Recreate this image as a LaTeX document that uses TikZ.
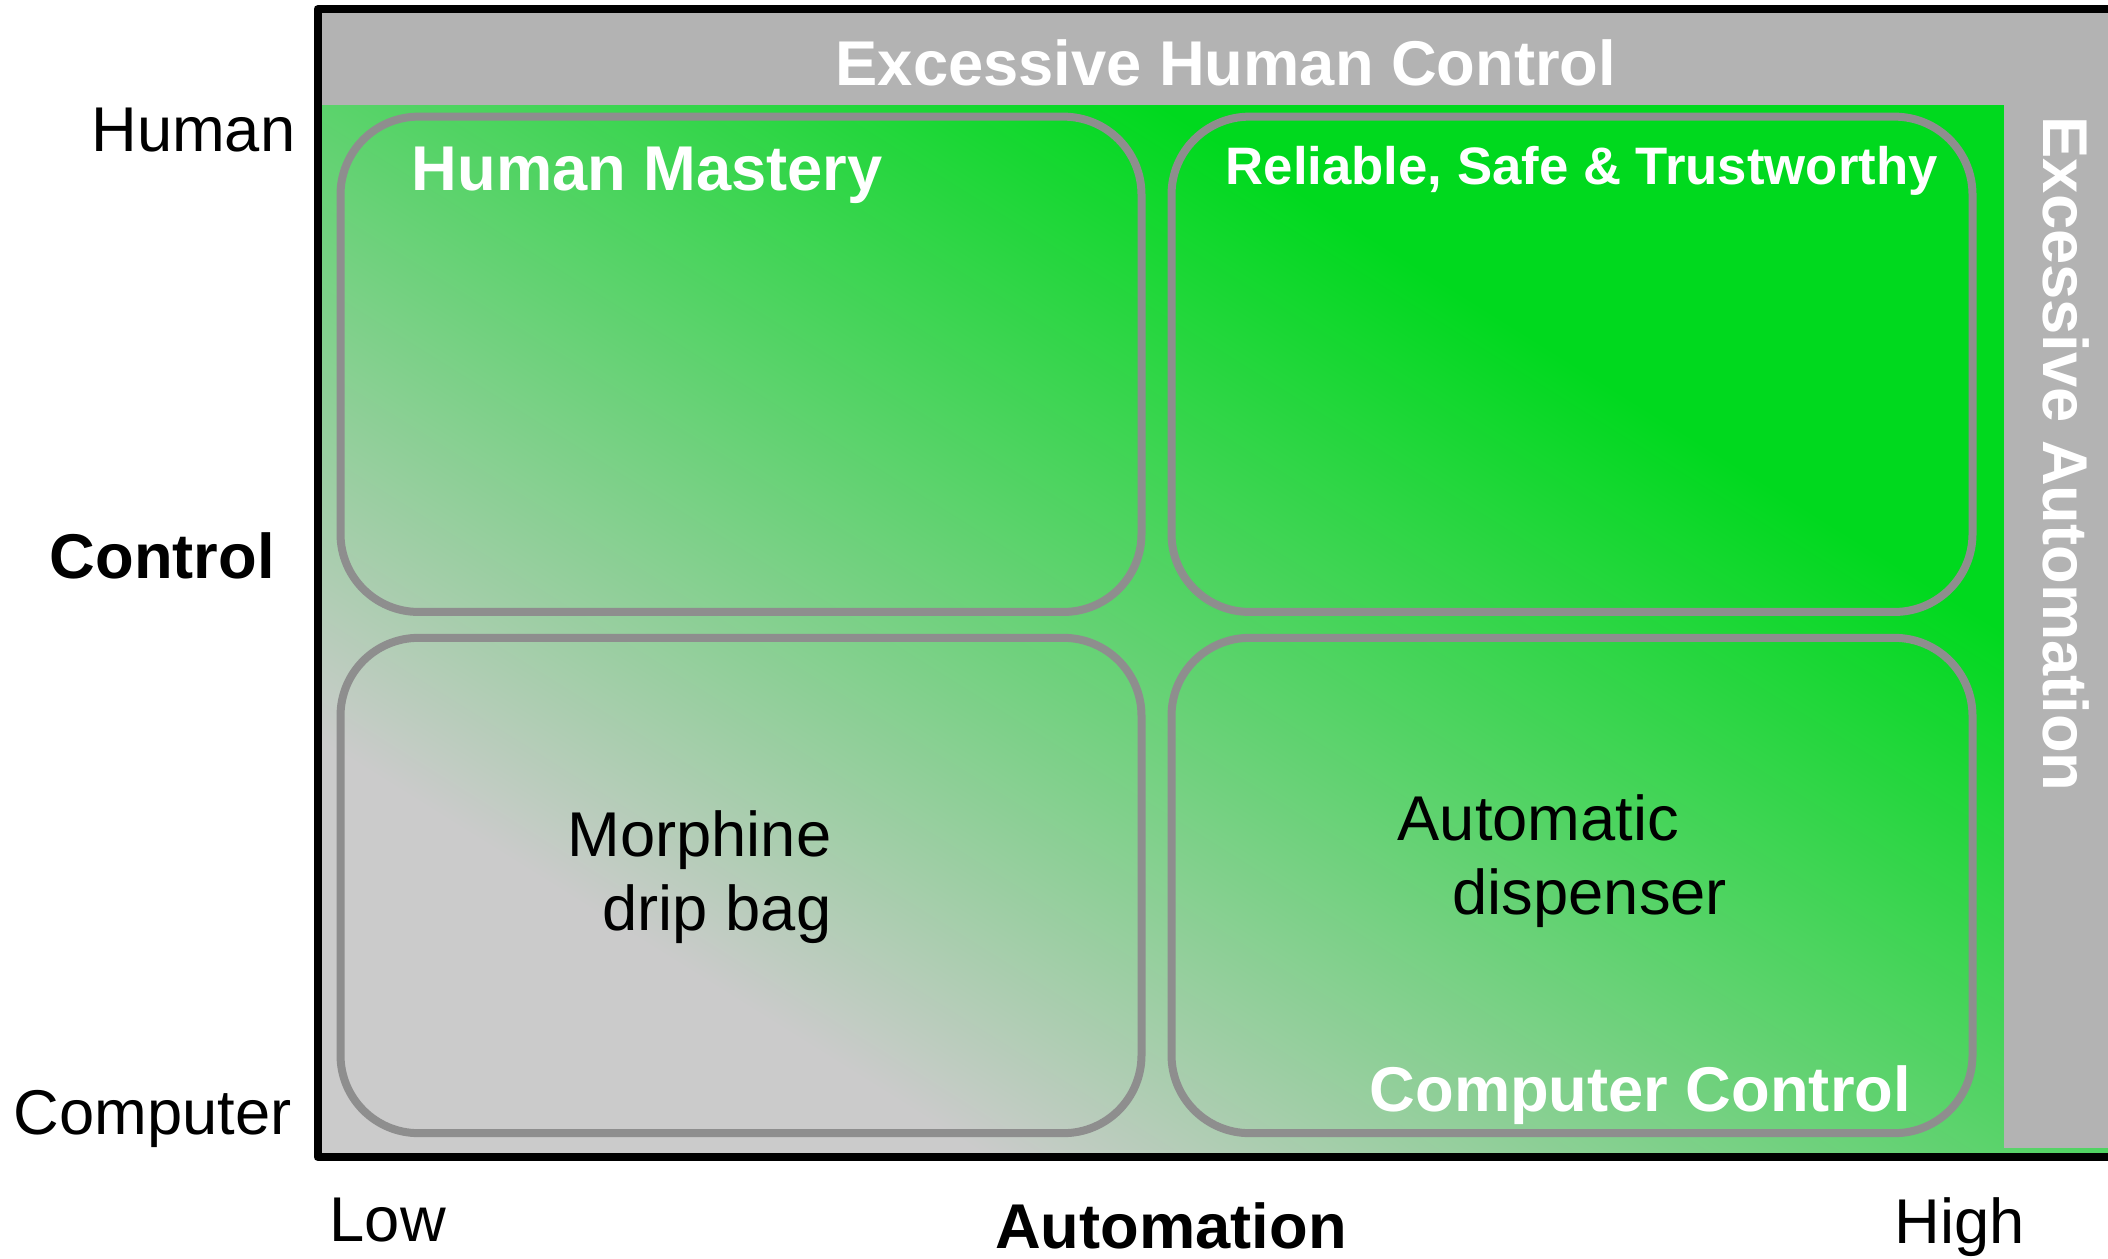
\documentclass[tikz,border=0pt]{standalone}
\usepackage{fontspec}
\setmainfont{Liberation Sans}
\usetikzlibrary{positioning}
\definecolor{zgreen}{RGB}{0,217,30}
\definecolor{zgray}{RGB}{203,203,203}
\definecolor{bandgray}{RGB}{179,179,179}
\definecolor{edgegray}{RGB}{142,142,142}
\pgfdeclarehorizontalshading{zoneshade}{100bp}{color(0bp)=(zgray); color(35.7bp)=(zgray); color(61.7bp)=(zgreen); color(100bp)=(zgreen)}

\begin{document}
\begin{tikzpicture}[
  every node/.style={inner sep=0pt,font=\fontsize{18}{21}\selectfont},
  quad/.style={rectangle,draw=edgegray,line width=0.08cm,rounded corners=0.78cm,minimum width=8.01cm,minimum height=4.953cm},
  head/.style={text=white,font=\fontsize{18}{21}\selectfont\bfseries},
  axname/.style={font=\fontsize{18}{21}\selectfont\bfseries}]
\useasboundingbox (0,0) rectangle (21.08,12.58);

\begin{scope}
\clip (3.21,1.05) rectangle (21.08,12.45);
\shade[shading=zoneshade,shading angle=58.07] (2.13,-3.21) rectangle (21.13,15.79);
\end{scope}
\fill[bandgray] (3.21,11.53) rectangle (21.08,12.45);
\fill[bandgray] (20.04,1.10) rectangle (21.08,12.45);
\draw[line width=0.08cm,line join=round] (21.08,12.488) -- (3.175,12.488) -- (3.175,1.01) -- (21.08,1.01);

\draw (7.41,8.937) node[quad] (hmbox) {};
\draw (15.72,8.937) node[quad] (rstbox) {};
\draw (7.41,3.725) node[quad] (dripbox) {};
\draw (15.72,3.725) node[quad] (dispbox) {};

\draw (12.26,11.72) node[head,anchor=base] (ehc) {Excessive Human Control};
\draw (20.43,11.42) node[head,anchor=base west,rotate=-90] (eauto) {Excessive Automation};
\draw (4.11,10.672) node[head,anchor=base west] (hmast) {Human Mastery};
\draw (12.25,10.73) node[head,anchor=base west,font=\fontsize{15}{18}\selectfont\bfseries] (rst) {Reliable, Safe \& Trustworthy};
\draw (13.69,1.47) node[head,anchor=base west] (cctrl) {Computer Control};

\draw (8.32,3.28) node[anchor=base east,align=right] (drip) {Morphine\\drip bag};
\draw (13.97,3.44) node[anchor=base west,align=left] (disp) {Automatic\\\hspace*{0.55cm}dispenser};

\draw (2.96,11.062) node[anchor=base east] (yhi) {Human};
\draw (2.755,6.797) node[axname,anchor=base east] (yax) {Control};
\draw (2.92,1.24) node[anchor=base east] (ylo) {Computer};
\draw (3.29,0.17) node[anchor=base west] (xlo) {Low};
\draw (11.71,0.10) node[axname,anchor=base] (xax) {Automation};
\draw (18.94,0.15) node[anchor=base west] (xhi) {High};
\end{tikzpicture}
\end{document}
